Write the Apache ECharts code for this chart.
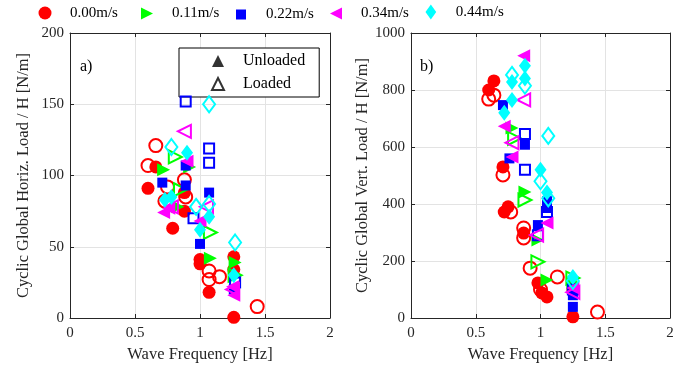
<!DOCTYPE html>
<html>
<head>
<meta charset="utf-8">
<script src="https://cdn.jsdelivr.net/npm/echarts@6/dist/echarts.min.js"></script>
<style>
  html, body { margin: 0; padding: 0; background: #fff; }
  #chart { width: 688px; height: 376px; }
</style>
</head>
<body>
<div id="chart"></div>
<script>
// speeds shown in the legend
const speeds = ['0.00m/s', '0.11m/s', '0.22m/s', '0.34m/s', '0.44m/s'];
const colors = ['#ff0000', '#00ff00', '#0000ff', '#ff00ff', '#00ffff'];
const xTicks = [0, 0.5, 1, 1.5, 2];

// horizontal load / H [N/m], pairs of [frequency Hz, value]
const horizUnloaded = [
  [[0.60, 91], [0.66, 106], [0.79, 63], [0.88, 75], [0.88, 88], [1.00, 41], [1.00, 38], [1.07, 18], [1.26, 43], [1.26, 34], [1.26, 0.5]],
  [[0.72, 104], [0.92, 106], [0.83, 78], [1.08, 42], [1.27, 39]],
  [[0.71, 95], [0.89, 107], [0.89, 93], [1.00, 52], [1.07, 88], [1.26, 20]],
  [[0.72, 74], [0.76, 77], [0.90, 110], [1.00, 68], [1.26, 16], [1.25, 22]],
  [[0.73, 83], [0.78, 85], [0.90, 116], [1.00, 62], [1.07, 71], [1.26, 30]]
];
const horizLoaded = [
  [[0.66, 121], [0.60, 107], [0.73, 82], [0.88, 97], [0.89, 85], [0.75, 92], [1.07, 33], [1.07, 27], [1.15, 29], [1.44, 8]],
  [[0.81, 113], [0.85, 90], [1.08, 60], [1.27, 30]],
  [[0.89, 152], [1.07, 119], [1.07, 109], [0.95, 70], [1.27, 25]],
  [[0.88, 131], [0.78, 78], [1.05, 78], [1.25, 20]],
  [[0.78, 120], [1.07, 150], [0.97, 78], [1.07, 80], [1.27, 53]]
];

// vertical load / H [N/m], pairs of [frequency Hz, value]
const vertUnloaded = [
  [[0.64, 832], [0.60, 800], [0.71, 530], [0.75, 390], [0.72, 372], [0.87, 298], [0.98, 123], [1.01, 88], [1.05, 74], [1.25, 4], [1.25, 98]],
  [[0.78, 667], [0.88, 442], [0.98, 274], [1.05, 133], [1.25, 125]],
  [[0.71, 747], [0.76, 560], [0.88, 608], [0.98, 326], [1.05, 386], [1.05, 410], [1.25, 39], [1.25, 80]],
  [[0.72, 673], [0.78, 565], [0.87, 920], [1.05, 333], [1.25, 105]],
  [[0.78, 828], [0.78, 765], [0.72, 720], [0.88, 885], [0.88, 840], [1.00, 520], [1.05, 440], [1.25, 144]]
];
const vertLoaded = [
  [[0.60, 768], [0.64, 782], [0.71, 502], [0.77, 372], [0.87, 316], [0.87, 281], [0.92, 175], [1.00, 100], [1.13, 144], [1.44, 21]],
  [[0.80, 630], [0.88, 414], [0.98, 197], [1.25, 140]],
  [[0.88, 646], [0.88, 520], [1.05, 372], [0.98, 290], [1.25, 100]],
  [[0.78, 615], [0.87, 765], [0.97, 291], [1.25, 90]],
  [[0.78, 853], [0.88, 815], [1.06, 639], [1.00, 480], [1.06, 420], [1.25, 130]]
];

const symbols = [
  'circle',
  'path://M0,0 L10,5 L0,10 Z',
  'rect',
  'path://M10,0 L0,5 L10,10 Z',
  'path://M5,0 L10,7 L5,14 L0,7 Z'
];
const sizes = [13, 13, 10, 13, [12, 16]];

const FONT = '"Liberation Serif", "DejaVu Serif", serif';
const AXIS = '#262626';

function xAxisDef(gridIndex) {
  return {
    gridIndex: gridIndex, type: 'value', min: 0, max: 2, interval: 0.5,
    name: 'Wave Frequency [Hz]', nameLocation: 'middle', nameGap: 26,
    nameTextStyle: { fontFamily: FONT, fontSize: 16.5, color: AXIS },
    axisLine: { onZero: false, lineStyle: { color: AXIS } },
    axisTick: { inside: true, length: 4, lineStyle: { color: AXIS } },
    axisLabel: { fontFamily: FONT, fontSize: 15, color: AXIS, margin: 8,
      formatter: v => xTicks.indexOf(v) >= 0 ? String(v) : '' },
    splitLine: { show: true, lineStyle: { color: '#e3e3e3' } }
  };
}
function topAxisDef(gridIndex) {
  return {
    gridIndex: gridIndex, type: 'value', min: 0, max: 2, interval: 0.5, position: 'top',
    axisLine: { onZero: false, lineStyle: { color: AXIS } },
    axisTick: { inside: true, length: 4, lineStyle: { color: AXIS } },
    axisLabel: { show: false }, splitLine: { show: false }
  };
}
function yAxisDef(gridIndex, max, interval, name) {
  return {
    gridIndex: gridIndex, type: 'value', min: 0, max: max, interval: interval,
    name: name, nameLocation: 'middle', nameGap: 38,
    nameTextStyle: { fontFamily: FONT, fontSize: 16.5, color: AXIS },
    axisLine: { show: true, onZero: false, lineStyle: { color: AXIS } },
    axisTick: { show: true, inside: true, length: 4, lineStyle: { color: AXIS } },
    axisLabel: { fontFamily: FONT, fontSize: 15, color: AXIS, margin: 6, formatter: v => String(v) },
    splitLine: { show: true, lineStyle: { color: '#e3e3e3' } }
  };
}
function rightAxisDef(gridIndex, max, interval) {
  return {
    gridIndex: gridIndex, type: 'value', min: 0, max: max, interval: interval, position: 'right',
    axisLine: { show: true, onZero: false, lineStyle: { color: AXIS } },
    axisTick: { show: true, inside: true, length: 4, lineStyle: { color: AXIS } },
    axisLabel: { show: false }, splitLine: { show: false }
  };
}

const series = [];
function addSeries(xi, yi, unloaded, loaded) {
  for (let i = 0; i < speeds.length; i++) {
    series.push({
      name: speeds[i], type: 'scatter', xAxisIndex: xi, yAxisIndex: yi,
      symbol: symbols[i], symbolSize: sizes[i], data: unloaded[i],
      itemStyle: { color: colors[i], opacity: 1 }, z: 2 + i
    });
    series.push({
      name: speeds[i] + ' loaded', type: 'scatter', xAxisIndex: xi, yAxisIndex: yi,
      symbol: symbols[i], symbolSize: sizes[i], data: loaded[i],
      itemStyle: { color: 'rgba(255,255,255,0)', borderColor: colors[i], borderWidth: 2, opacity: 1 }, z: 2 + i
    });
  }
}
addSeries(0, 0, horizUnloaded, horizLoaded);
addSeries(2, 2, vertUnloaded, vertLoaded);
series.push({ name: 'Unloaded', type: 'scatter', xAxisIndex: 0, yAxisIndex: 0, data: [] });
series.push({ name: 'Loaded', type: 'scatter', xAxisIndex: 0, yAxisIndex: 0, data: [] });

const legendCenters = [45, 147, 241, 336, 431];
const legendSizes = [[13, 13], [12, 12], [10, 10], [12, 12], [11, 15]];
const legends = speeds.map((s, i) => ({
  left: legendCenters[i] - legendSizes[i][0] / 2, top: 12 - legendSizes[i][1] / 2, padding: 0,
  itemWidth: legendSizes[i][0], itemHeight: legendSizes[i][1],
  data: [{ name: s, icon: symbols[i], itemStyle: { color: colors[i] } }],
  textStyle: { fontFamily: FONT, fontSize: 15, color: '#000',
    padding: [0, 0, 0, 25 - legendSizes[i][0] / 2 - 5] },
  selectedMode: false
}));
legends.push({
  left: 179, top: 48, orient: 'vertical', itemGap: 7, itemWidth: 12, itemHeight: 12,
  padding: [5, 14, 5, 32], backgroundColor: '#fff', borderColor: '#000', borderWidth: 1,
  data: [
    { name: 'Unloaded', icon: 'triangle', itemStyle: { color: '#000' } },
    { name: 'Loaded', icon: 'triangle', itemStyle: { color: '#fff', borderColor: '#000', borderWidth: 2 } }
  ],
  textStyle: { fontFamily: FONT, fontSize: 16, color: '#000', padding: [0, 0, 0, 14] },
  selectedMode: false
});

const chart = echarts.init(document.getElementById('chart'), null, { renderer: 'canvas' });
chart.setOption({
  animation: false,
  grid: [
    { left: 70, top: 33, width: 260, height: 285 },
    { left: 411, top: 33, width: 259, height: 285 }
  ],
  xAxis: [xAxisDef(0), topAxisDef(0), xAxisDef(1), topAxisDef(1)],
  yAxis: [
    yAxisDef(0, 200, 50, 'Cyclic Global Horiz. Load / H [N/m]'),
    rightAxisDef(0, 200, 50),
    yAxisDef(1, 1000, 200, 'Cyclic Global Vert. Load / H [N/m]'),
    rightAxisDef(1, 1000, 200)
  ],
  legend: legends,
  graphic: [
    { type: 'text', left: 80, top: 59, style: { text: 'a)', fontFamily: FONT, fontSize: 16, fill: '#000' } },
    { type: 'text', left: 420, top: 59, style: { text: 'b)', fontFamily: FONT, fontSize: 16, fill: '#000' } }
  ],
  series: series
});
</script>
</body>
</html>
